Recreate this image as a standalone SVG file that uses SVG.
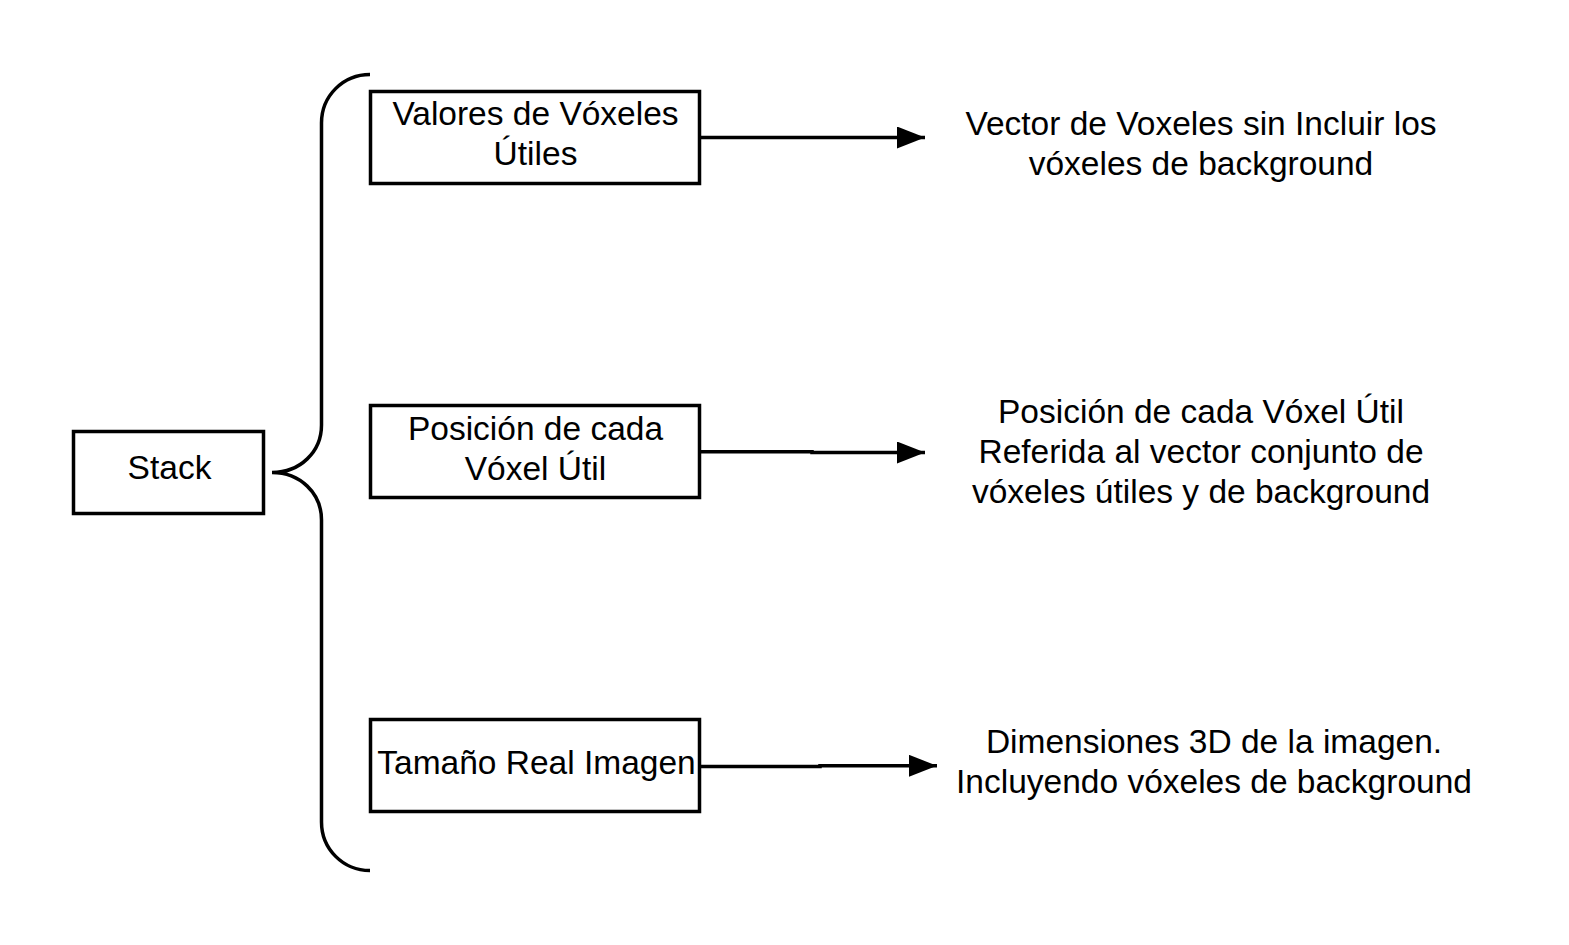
<svg xmlns="http://www.w3.org/2000/svg" width="1569" height="945" viewBox="0 0 1569 945">
<style>
.box{fill:#fff;stroke:#000;stroke-width:3.5}
.ln{fill:none;stroke:#000;stroke-width:3.5}
.t{font-family:"Liberation Sans",Arial,sans-serif;font-size:33.5px;fill:#000;text-anchor:middle}
</style>
<defs>
<marker id="ah" markerUnits="userSpaceOnUse" markerWidth="30" markerHeight="24" refX="28" refY="11" orient="auto">
<path d="M0,0 L28,11 L0,22 Z" fill="#000"/>
</marker>
</defs>
<rect width="1569" height="945" fill="#fff"/>
<g id="connectors">
<path class="ln" d="M370,74.5 C343,74.5 321.5,96 321.5,123 L321.5,425 C321.5,452 300,472.5 272,472.5 C300,472.5 321.5,493 321.5,520 L321.5,822 C321.5,849 343,870.5 370,870.5"/>
<path class="ln" d="M700,137.5 L925,137.5" marker-end="url(#ah)"/>
<path class="ln" d="M700,451.8 L812,451.8 L812,452.5 L925,452.5" marker-end="url(#ah)"/>
<path class="ln" d="M700,766.5 L820,766.5 L820,765.8 L937,765.8" marker-end="url(#ah)"/>
</g>
<g id="stack">
<rect class="box" x="73.5" y="431.5" width="190" height="82"/>
<text class="t" x="169.5" y="479">Stack</text>
</g>
<g id="valores">
<rect class="box" x="370.5" y="91.5" width="329" height="92"/>
<text class="t" x="535.5" y="125">Valores de Vóxeles</text>
<text class="t" x="535.5" y="165">Útiles</text>
</g>
<g id="posicion">
<rect class="box" x="370.5" y="405.5" width="329" height="92"/>
<text class="t" x="535.5" y="440">Posición de cada</text>
<text class="t" x="535.5" y="480">Vóxel Útil</text>
</g>
<g id="tamano">
<rect class="box" x="370.5" y="719.5" width="329" height="92"/>
<text class="t" x="536.5" y="773.5">Tamaño Real Imagen</text>
</g>
<g id="desc1">
<text class="t" x="1201" y="135">Vector de Voxeles sin Incluir los</text>
<text class="t" x="1201" y="175">vóxeles de background</text>
</g>
<g id="desc2">
<text class="t" x="1201" y="423">Posición de cada Vóxel Útil</text>
<text class="t" x="1201" y="463">Referida al vector conjunto de</text>
<text class="t" x="1201" y="503">vóxeles útiles y de background</text>
</g>
<g id="desc3">
<text class="t" x="1214" y="752.5">Dimensiones 3D de la imagen.</text>
<text class="t" x="1214" y="792.5">Incluyendo vóxeles de background</text>
</g>
</svg>
